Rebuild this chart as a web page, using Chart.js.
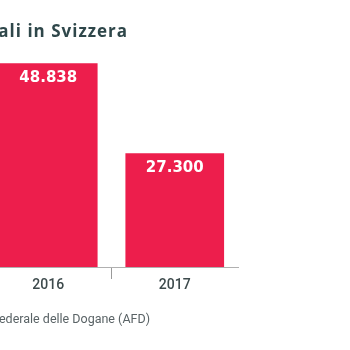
<!DOCTYPE html>
<html>
<head>
<meta charset="utf-8">
<script src="https://cdn.jsdelivr.net/npm/chart.js@4/dist/chart.umd.min.js"></script>
<style>
  html, body { margin: 0; padding: 0; background: #fff; overflow: hidden; }
  #wrap { position: absolute; left: -250px; top: 0; width: 600px; height: 350px; }
</style>
</head>
<body>
<div id="wrap"><canvas id="chart"></canvas></div>
<script>
const years = ['2016', '2017'];
const stays = [48838, 27300];

const title = 'Soggiorni illegali in Svizzera';
const source = 'Fonte: Amministrazione federale delle Dogane (AFD)';

// shift between page and canvas (canvas starts off screen to the left)
const shift = 250;

function fmt(n) {
  return String(n).replace(/\B(?=(\d{3})+(?!\d))/g, '.');
}

const extras = {
  id: 'extras',
  afterDatasetsDraw(chart) {
    const ctx = chart.ctx;
    ctx.save();
    ctx.fillStyle = '#ffffff';
    ctx.font = 'bold 15px "DejaVu Sans"';
    ctx.textAlign = 'center';
    ctx.textBaseline = 'middle';
    chart.getDatasetMeta(0).data.forEach((bar, i) => {
      ctx.fillText(fmt(stays[i]), bar.x, bar.y + 14.5);
    });
    ctx.restore();
  },
  afterDraw(chart) {
    const ctx = chart.ctx;
    ctx.save();
    ctx.textAlign = 'right';
    ctx.textBaseline = 'middle';
    ctx.fillStyle = '#2f474a';
    ctx.font = 'bold 17px "Open Sans"';
    ctx.letterSpacing = '1px';
    ctx.fillText(title, 128 + shift, 32);
    ctx.letterSpacing = '0px';
    ctx.fillStyle = '#5a6366';
    ctx.font = '12.5px Roboto';
    ctx.fillText(source, 150 + shift, 320);
    ctx.restore();
  }
};

new Chart(document.getElementById('chart'), {
  type: 'bar',
  data: {
    labels: years,
    datasets: [{
      data: stays,
      backgroundColor: '#ed1e4c',
      barPercentage: 0.78,
      categoryPercentage: 1
    }]
  },
  options: {
    responsive: true,
    maintainAspectRatio: false,
    animation: false,
    layout: { padding: { left: 235, right: 112, top: 58.5, bottom: 58.2 } },
    plugins: {
      legend: { display: false },
      tooltip: { enabled: false }
    },
    scales: {
      x: {
        grid: {
          drawOnChartArea: false,
          tickLength: 12,
          color: ctx => ctx.index === 1 ? '#9a9a9a' : 'transparent'
        },
        border: { color: '#b0b0b0', width: 1 },
        ticks: {
          padding: -2,
          color: '#3d4a4c',
          font: { family: 'Roboto', size: 14, weight: '500' }
        }
      },
      y: {
        display: false,
        min: 0,
        max: 50000
      }
    }
  },
  plugins: [extras]
});
</script>
</body>
</html>
